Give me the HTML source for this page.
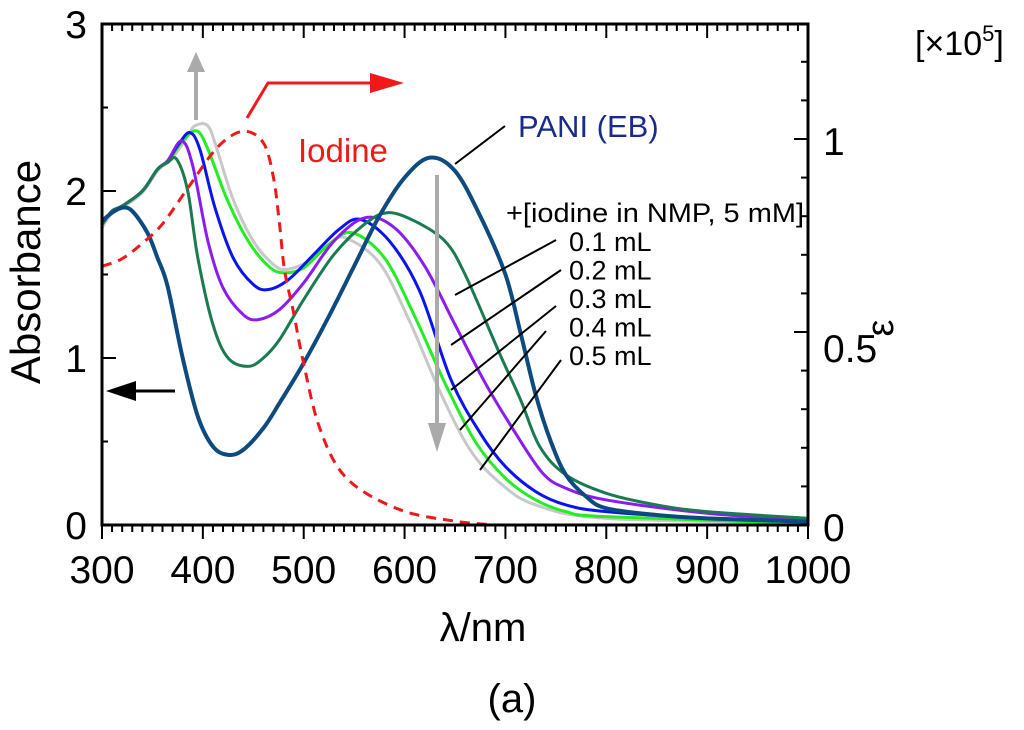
<!DOCTYPE html>
<html><head><meta charset="utf-8"><style>
body{margin:0;background:#fff}
svg text{font-family:"Liberation Sans",sans-serif}
</style></head><body>
<svg id="c" width="1024" height="725" xmlns="http://www.w3.org/2000/svg"></svg>
<script>
const xTicks=[300,400,500,600,700,800,900,1000];
const yTicks=[0,1,2,3];
const eTicks=[0,0.5,1];
const seriesNames=["PANI (EB)","0.1 mL","0.2 mL","0.3 mL","0.4 mL","0.5 mL"];
const seriesColors=["#0d4a80","#1a7a50","#8b1cf0","#0a14f0","#22ee22","#c8c8c8"];
const paniX=[300,310,320,330,345,355,365,380,395,410,425,440,460,476,500,525,550,575,600,625,650,675,700,715,730,745,760,780,800,850,900,1000];
const paniY=[1.82,1.87,1.9,1.88,1.75,1.6,1.43,1.0,0.65,0.47,0.42,0.45,0.58,0.73,0.97,1.25,1.55,1.85,2.08,2.2,2.12,1.85,1.5,1.15,0.78,0.5,0.3,0.17,0.1,0.06,0.04,0.02];
const s1X=[300,310,320,340,355,365,374,385,395,410,425,445,460,476,500,530,560,583,610,640,660,694,715,734,760,800,850,900,1000];
const s1Y=[1.8,1.88,1.91,2.0,2.13,2.17,2.19,2.0,1.6,1.2,1.0,0.95,1.0,1.11,1.35,1.62,1.8,1.87,1.82,1.7,1.5,1.03,0.75,0.47,0.3,0.19,0.12,0.08,0.04];
const s2X=[300,310,320,340,355,365,379,390,405,420,440,455,476,500,530,561,590,620,650,680,710,737,760,800,900,1000];
const s2Y=[1.8,1.88,1.91,2.0,2.13,2.18,2.3,2.15,1.7,1.42,1.26,1.23,1.29,1.45,1.7,1.84,1.78,1.55,1.2,0.85,0.55,0.31,0.22,0.15,0.07,0.03];
const s3X=[300,310,320,340,355,365,376,387,397,412,430,450,465,485,510,535,556,585,615,646,675,700,730,760,800,900,1000];
const s3Y=[1.8,1.88,1.91,2.0,2.13,2.18,2.28,2.35,2.25,1.9,1.6,1.44,1.41,1.47,1.62,1.77,1.83,1.7,1.4,0.87,0.55,0.35,0.2,0.12,0.08,0.04,0.02];
const s4X=[300,310,320,340,355,366,380,394,405,424,445,465,480,500,525,548,580,610,640,670,700,730,760,800,1000];
const s4Y=[1.8,1.88,1.91,2.0,2.13,2.18,2.3,2.36,2.25,1.95,1.7,1.55,1.51,1.54,1.68,1.75,1.6,1.25,0.85,0.5,0.28,0.15,0.08,0.05,0.01];
const s5X=[300,310,320,340,355,370,385,392,405,414,430,450,470,483,505,525,541,575,605,635,665,695,730,800,1000];
const s5Y=[1.78,1.87,1.9,1.99,2.12,2.2,2.33,2.39,2.39,2.25,1.95,1.7,1.56,1.53,1.58,1.68,1.72,1.57,1.22,0.8,0.45,0.25,0.12,0.04,0.01];
const iodX=[300,320,340,360,387,415,440,460,470,476,481,490,499,516,543,595,650,690];
const iodE=[0.67,0.69,0.73,0.78,0.88,0.98,1.02,0.99,0.9,0.78,0.66,0.55,0.43,0.25,0.12,0.04,0.01,0];

const L=102,R=808,T=24,B=525;
const sx=v=>L+(v-300)/700*(R-L);
const sy=v=>B-v/3*(B-T);
const se=v=>525-v*386;
const svg=document.getElementById('c');
const NS="http://www.w3.org/2000/svg";
function mk(tag,attrs,parent){const e=document.createElementNS(NS,tag);for(const k in attrs)e.setAttribute(k,attrs[k]);(parent||svg).appendChild(e);return e;}
function txt(s,x,y,attrs){const t=mk('text',Object.assign({x:x,y:y},attrs));t.textContent=s;return t;}
function smooth(pts){let d=`M${pts[0][0]},${pts[0][1]}`;for(let i=0;i<pts.length-1;i++){const p0=pts[Math.max(i-1,0)],p1=pts[i],p2=pts[i+1],p3=pts[Math.min(i+2,pts.length-1)];d+=` C${p1[0]+(p2[0]-p0[0])/6},${p1[1]+(p2[1]-p0[1])/6} ${p2[0]-(p3[0]-p1[0])/6},${p2[1]-(p3[1]-p1[1])/6} ${p2[0]},${p2[1]}`;}return d;}

const allX=[paniX,s1X,s2X,s3X,s4X,s5X],allY=[paniY,s1Y,s2Y,s3Y,s4Y,s5Y];
for(let i=5;i>=0;i--){
 const p=mk('path',{d:smooth(allX[i].map((x,j)=>[sx(x),sy(allY[i][j])])),fill:'none',stroke:seriesColors[i],'stroke-width':i==0?4:3,'stroke-linejoin':'round'});
 
 
}
const io=mk('path',{d:smooth(iodX.map((x,j)=>[sx(x),se(iodE[j])])),fill:'none',stroke:'#f01818','stroke-width':3,'stroke-dasharray':'10,7'});



const fr=mk('rect',{x:L,y:T,width:R-L,height:B-T,fill:'none',stroke:'#000','stroke-width':3});


const tg=mk('g',{stroke:'#000','stroke-width':2});


for(let v=300;v<=1000;v+=10){const x=sx(v),l=(v%100==0)?14:7;mk('line',{x1:x,y1:B,x2:x,y2:B+l},tg);mk('line',{x1:x,y1:T,x2:x,y2:T+l},tg);}
for(let v=0;v<=3;v+=0.5){const y=sy(v),l=(v%1==0)?14:6;mk('line',{x1:L,y1:y,x2:L+l,y2:y},tg);}
for(let k=0;k<=13;k++){const v=k/10,y=se(v);if(y<T)break;const l=(k%5==0)?14:7;mk('line',{x1:R,y1:y,x2:R-l,y2:y},tg);}
xTicks.forEach(v=>{const t=txt(v,sx(v),583,{'font-size':39,'text-anchor':'middle'});});
yTicks.forEach(v=>{const t=txt(v,87,sy(v)+14,{'font-size':39,'text-anchor':'end'});});
eTicks.forEach(v=>{const t=txt(v,823,se(v)+(v==0.5?30:16),{'font-size':39});});

let t;
t=txt('λ/nm',483,641,{'font-size':40,'text-anchor':'middle'});
t=txt('Absorbance',0,0,{'font-size':42,'text-anchor':'middle',transform:'translate(40,272) rotate(-90)'});
t=txt('ε',0,0,{'font-size':38,'text-anchor':'middle',transform:'translate(893,328) rotate(-90)'});
t=mk('text',{x:915,y:55,'font-size':34});t.innerHTML='[×10<tspan dy="-14" font-size="22">5</tspan><tspan dy="14">]</tspan>';
t=txt('(a)',512,712,{'font-size':40,'text-anchor':'middle','font-family':'Liberation Serif'});
t=txt('PANI (EB)',518,137,{'font-size':31,fill:'#1a2a8a'});
t=txt('Iodine',298,162,{'font-size':33,fill:'#f01818'});
t=txt('+[iodine in NMP, 5 mM]',506,222,{'font-size':27,'textLength':298,'lengthAdjust':'spacingAndGlyphs'});
const vols=["0.1 mL","0.2 mL","0.3 mL","0.4 mL","0.5 mL"];
vols.forEach((s,i)=>{const e=txt(s,569,251+i*28.5,{'font-size':27});});
const ann=mk('g',{stroke:'#000','stroke-width':2,fill:'none'});


[[556,240,455,295],[561,270,451,345],[556,306,451,390],[546,331,460,430],[561,360,480,470],[455,164,505,126]].forEach(a=>mk('line',{x1:a[0],y1:a[1],x2:a[2],y2:a[3]},ann));
let g=mk('g',{});
mk('line',{x1:196,y1:120,x2:196,y2:70,stroke:'#aaa','stroke-width':4},g);mk('polygon',{points:'187,72 205,72 196,52',fill:'#aaa'},g);
g=mk('g',{});
mk('line',{x1:437,y1:175,x2:437,y2:425,stroke:'#aaa','stroke-width':4},g);mk('polygon',{points:'428,423 446,423 437,452',fill:'#aaa'},g);
g=mk('g',{});
mk('polyline',{points:'247,118 268,83 375,83',stroke:'#f01818','stroke-width':3,fill:'none'},g);mk('polygon',{points:'370,73 370,93 404,83',fill:'#f01818'},g);
g=mk('g',{});
mk('line',{x1:175,y1:391,x2:130,y2:391,stroke:'#000','stroke-width':3},g);mk('polygon',{points:'136,381 136,401 106,391',fill:'#000'},g);
</script>
</body></html>
